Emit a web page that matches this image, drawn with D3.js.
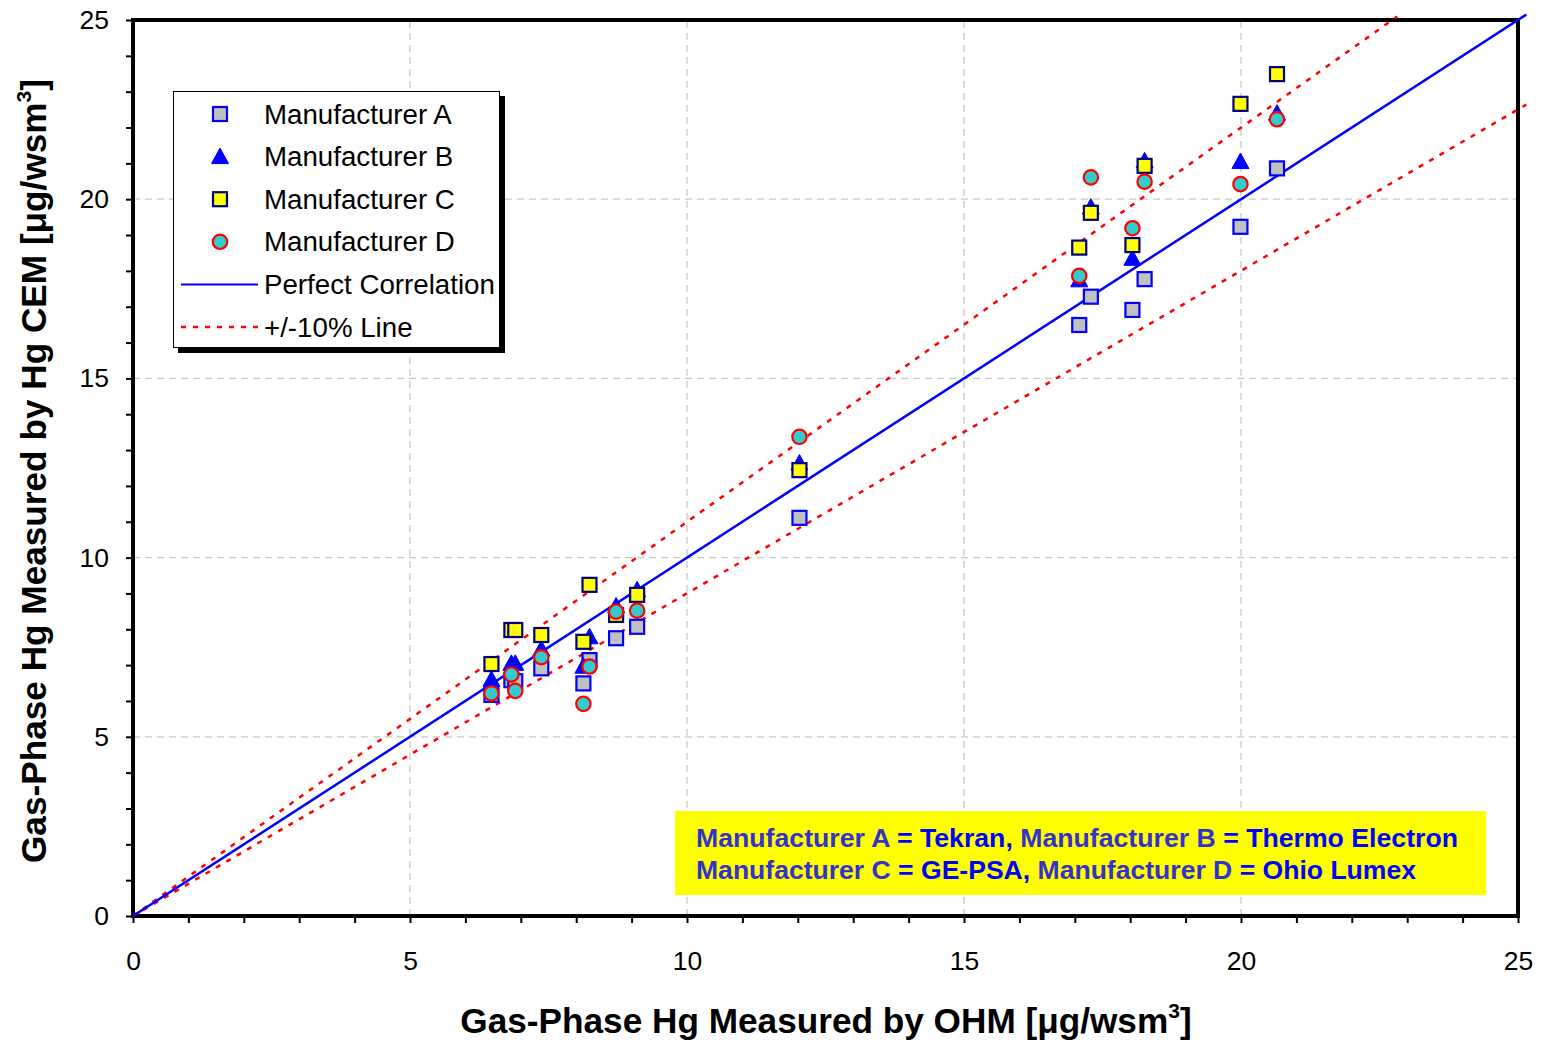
<!DOCTYPE html>
<html>
<head>
<meta charset="utf-8">
<script src="https://cdn.jsdelivr.net/npm/d3@7"></script>
<style>
  html, body { margin: 0; padding: 0; background: #fff; }
  svg { display: block; font-family: Arial, "Liberation Sans", sans-serif; }
</style>
</head>
<body>
<svg id="chart" width="1545" height="1041"></svg>
<script>
// OHM reference concentrations (x) and the CEM readings of each manufacturer (y)
const ohm   = [6.47, 6.83, 6.90, 7.37, 8.13, 8.24, 8.72, 9.10, 12.03, 17.08, 17.29, 18.04, 18.26, 19.99, 20.65];
const mfrA  = [6.17, 6.58, 6.55, 6.91, 6.49, 7.14, 7.75, 8.07, 11.11, 16.49, 17.28, 16.91, 17.77, 19.23, 20.86];
const mfrB  = [6.60, 7.05, 7.05, 7.45, 6.97, 7.79, 8.65, 9.10, 12.64, 17.75, 19.78, 18.35, 21.07, 21.05, 22.40];
const mfrC  = [7.03, 7.98, 7.98, 7.84, 7.65, 9.24, 8.40, 8.96, 12.44, 18.65, 19.62, 18.72, 20.93, 22.66, 23.49];
const mfrD  = [6.21, 6.74, 6.28, 7.22, 5.92, 6.96, 8.49, 8.52, 13.37, 17.86, 20.61, 19.19, 20.49, 20.42, 22.23];

const seriesNames = ["Manufacturer A", "Manufacturer B", "Manufacturer C", "Manufacturer D"];
const lineNames   = ["Perfect Correlation", "+/-10% Line"];

// reference lines: y = x and y = x ± 10 %
const perfectLine = [[0, 0], [25.15, 25.15]];
const upperLine   = [[0, 0], [22.82, 25.1]];
const lowerLine   = [[0, 0], [25.15, 22.64]];

const xTicks = d3.range(0, 26, 1);
const yTicks = d3.range(0, 26, 1);
const majorTicks = [0, 5, 10, 15, 20, 25];

const svg = d3.select("#chart");
const x = d3.scaleLinear().domain([0, 25]).range([133, 1518]);
const y = d3.scaleLinear().domain([0, 25]).range([916, 20]);

// gridlines
const grid = svg.append("g").attr("stroke", "#c8c8c8").attr("stroke-width", 1.3)
  .attr("stroke-dasharray", "7,5");
[5, 10, 15, 20].forEach(v => {
  grid.append("line").attr("x1", x(v)).attr("x2", x(v)).attr("y1", y(0)).attr("y2", y(25));
  grid.append("line").attr("x1", x(0)).attr("x2", x(25)).attr("y1", y(v)).attr("y2", y(v));
});

// axes
const fmt = d => majorTicks.includes(d) ? d : "";
const xAxis = svg.append("g").attr("transform", `translate(0,${y(0)})`)
  .call(d3.axisBottom(x).tickValues(xTicks).tickFormat(fmt).tickSize(7).tickPadding(28));
const yAxis = svg.append("g").attr("transform", `translate(${x(0)},0)`)
  .call(d3.axisLeft(y).tickValues(yTicks).tickFormat(fmt).tickSize(7).tickPadding(17));
[xAxis, yAxis].forEach(a => {
  a.select(".domain").remove();
  a.selectAll(".tick line").attr("stroke", "#000").attr("stroke-width", 2);
  a.selectAll(".tick text").attr("font-size", 26.5).attr("fill", "#000")
    .attr("font-family", "Arial, 'Liberation Sans', sans-serif");
});

// plot frame
svg.append("rect").attr("x", x(0)).attr("y", y(25))
  .attr("width", x(25) - x(0)).attr("height", y(0) - y(25))
  .attr("fill", "none").attr("stroke", "#000").attr("stroke-width", 4);

// reference lines
const line = d3.line().x(d => x(d[0])).y(d => y(d[1]));
svg.append("path").datum(upperLine).attr("d", line)
  .attr("fill", "none").attr("stroke", "#ff0000").attr("stroke-width", 2.5).attr("stroke-dasharray", "5,7");
svg.append("path").datum(lowerLine).attr("d", line)
  .attr("fill", "none").attr("stroke", "#ff0000").attr("stroke-width", 2.5).attr("stroke-dasharray", "5,7");
svg.append("path").datum(perfectLine).attr("d", line)
  .attr("fill", "none").attr("stroke", "#0000ff").attr("stroke-width", 2.5);

// marker painters
const markers = {
  square(g, cx, cy, fill, stroke) {
    g.append("rect").attr("x", cx - 7).attr("y", cy - 7).attr("width", 14).attr("height", 14)
      .attr("fill", fill).attr("stroke", stroke).attr("stroke-width", 2.2);
  },
  triangle(g, cx, cy, fill) {
    g.append("path").attr("d", `M${cx},${cy - 8.5}L${cx + 8.5},${cy + 7}L${cx - 8.5},${cy + 7}Z`)
      .attr("fill", fill).attr("stroke", fill).attr("stroke-width", 1);
  },
  circle(g, cx, cy, fill, stroke) {
    g.append("circle").attr("cx", cx).attr("cy", cy).attr("r", 7.2)
      .attr("fill", fill).attr("stroke", stroke).attr("stroke-width", 2.2);
  }
};

const series = [
  { name: seriesNames[0], values: mfrA, shape: "square",   fill: "#c0c0c0", stroke: "#0000ff" },
  { name: seriesNames[1], values: mfrB, shape: "triangle", fill: "#0000ff", stroke: "#0000ff" },
  { name: seriesNames[2], values: mfrC, shape: "square",   fill: "#ffff00", stroke: "#000080" },
  { name: seriesNames[3], values: mfrD, shape: "circle",   fill: "#33cccc", stroke: "#ff0000" }
];

const pts = svg.append("g");
series.forEach(s => {
  const g = pts.append("g");
  s.values.forEach((v, i) => markers[s.shape](g, x(ohm[i]), y(v), s.fill, s.stroke));
});

// legend
const lg = svg.append("g");
lg.append("rect").attr("x", 178).attr("y", 96).attr("width", 327).attr("height", 257).attr("fill", "#000");
lg.append("rect").attr("x", 173.5).attr("y", 91.5).attr("width", 326).attr("height", 256)
  .attr("fill", "#fff").attr("stroke", "#000").attr("stroke-width", 1);
const rowY = i => 114 + i * 42.6;
const legendFont = 27.7;
series.forEach((s, i) => {
  markers[s.shape](lg, 220, rowY(i), s.fill, s.stroke);
  lg.append("text").attr("x", 264).attr("y", rowY(i)).attr("dy", "0.35em")
    .attr("font-size", legendFont).attr("fill", "#000").text(s.name);
});
lg.append("line").attr("x1", 181).attr("x2", 258).attr("y1", rowY(4)).attr("y2", rowY(4))
  .attr("stroke", "#0000ff").attr("stroke-width", 2);
lg.append("text").attr("x", 264).attr("y", rowY(4)).attr("dy", "0.35em")
  .attr("font-size", legendFont).attr("fill", "#000").text(lineNames[0]);
lg.append("line").attr("x1", 181).attr("x2", 258).attr("y1", rowY(5)).attr("y2", rowY(5))
  .attr("stroke", "#ff0000").attr("stroke-width", 2.5).attr("stroke-dasharray", "5,7");
lg.append("text").attr("x", 264).attr("y", rowY(5)).attr("dy", "0.35em")
  .attr("font-size", legendFont).attr("fill", "#000").text(lineNames[1]);

// manufacturer key box
const key = svg.append("g");
key.append("rect").attr("x", 675).attr("y", 811).attr("width", 811).attr("height", 84).attr("fill", "#ffff00");
const keyLines = [
  [["Manufacturer A", "#3333cc"], [" = Tekran, ", "#0000ff"], ["Manufacturer B", "#3333cc"], [" = Thermo Electron", "#0000ff"]],
  [["Manufacturer C", "#3333cc"], [" = GE-PSA, ", "#0000ff"], ["Manufacturer D", "#3333cc"], [" = Ohio Lumex", "#0000ff"]]
];
const keyWidths = [762, 720];
keyLines.forEach((parts, i) => {
  const t = key.append("text").attr("x", 696).attr("y", 847 + i * 32)
    .attr("font-size", 26).attr("font-weight", "bold")
    .attr("textLength", keyWidths[i]).attr("lengthAdjust", "spacingAndGlyphs")
    .style("white-space", "pre");
  parts.forEach(p => t.append("tspan").attr("fill", p[1]).text(p[0]));
});

// axis titles
const titleFont = 35.2;
const xt = svg.append("text").attr("x", 826).attr("y", 1033).attr("text-anchor", "middle")
  .attr("font-size", titleFont).attr("font-weight", "bold").attr("fill", "#000");
xt.append("tspan").text("Gas-Phase Hg Measured by OHM [\u03bcg/wsm");
xt.append("tspan").attr("font-size", 21).attr("dy", -15).text("3");
xt.append("tspan").attr("dy", 15).text("]");

const yt = svg.append("text").attr("transform", "translate(46,471) rotate(-90)").attr("text-anchor", "middle")
  .attr("font-size", titleFont).attr("font-weight", "bold").attr("fill", "#000");
yt.append("tspan").text("Gas-Phase Hg Measured by Hg CEM [\u03bcg/wsm");
yt.append("tspan").attr("font-size", 21).attr("dy", -15).text("3");
yt.append("tspan").attr("dy", 15).text("]");
</script>
</body>
</html>
